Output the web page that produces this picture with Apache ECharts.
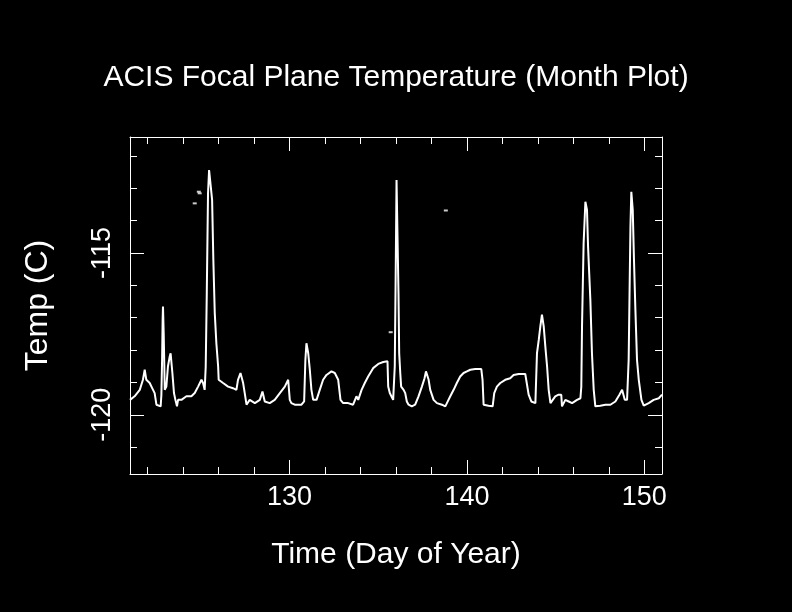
<!DOCTYPE html>
<html><head><meta charset="utf-8">
<script src="https://cdn.jsdelivr.net/npm/echarts@6/dist/echarts.min.js"></script>
<style>html,body{margin:0;padding:0;background:#000}#c{width:792px;height:612px}</style>
</head><body><div id="c"></div>
<script>
const days = [121.0,121.26,121.55,121.73,121.83,121.92,122.11,122.30,122.39,122.49,122.58,122.73,122.77,122.81,122.84,122.86,122.90,122.96,123.05,123.14,123.24,123.29,123.39,123.48,123.56,123.65,123.71,123.90,124.18,124.46,124.65,124.84,125.03,125.12,125.21,125.27,125.33,125.40,125.46,125.55,125.63,125.70,125.78,125.87,125.97,126.00,126.25,126.53,126.81,127.00,127.09,127.23,127.38,127.47,127.57,127.75,128.04,128.32,128.47,128.60,128.88,129.16,129.45,129.73,129.92,130.01,130.10,130.29,130.67,130.82,130.89,130.95,131.05,131.14,131.23,131.33,131.52,131.70,131.89,132.08,132.36,132.55,132.74,132.87,133.02,133.30,133.58,133.77,133.87,134.06,134.24,134.43,134.71,135.00,135.28,135.52,135.56,135.65,135.84,135.93,135.99,136.03,136.11,136.14,136.18,136.24,136.29,136.43,136.52,136.61,136.71,136.89,137.08,137.27,137.46,137.61,137.69,137.84,137.93,138.12,138.31,138.59,138.78,138.87,139.06,139.25,139.43,139.62,139.81,140.00,140.19,140.47,140.81,140.88,140.94,141.22,141.45,141.54,141.69,141.88,142.16,142.44,142.63,142.92,143.29,143.39,143.48,143.63,143.86,143.95,144.05,144.14,144.23,144.33,144.42,144.52,144.61,144.71,144.80,144.98,145.17,145.32,145.36,145.55,145.74,145.93,146.21,146.40,146.45,146.49,146.58,146.68,146.77,146.83,146.96,147.05,147.15,147.24,147.52,147.81,148.09,148.37,148.60,148.75,148.90,149.03,149.12,149.22,149.27,149.35,149.42,149.50,149.59,149.69,149.84,149.97,150.25,150.53,150.82,151.0];
const temps = [-119.54,-119.43,-119.23,-118.92,-118.61,-118.92,-119.02,-119.23,-119.33,-119.69,-119.74,-119.74,-119.38,-118.30,-117.07,-116.66,-117.48,-119.23,-119.13,-118.51,-118.20,-118.10,-118.71,-119.33,-119.54,-119.74,-119.54,-119.54,-119.43,-119.43,-119.33,-119.13,-118.92,-119.02,-119.23,-118.51,-116.24,-113.16,-112.44,-112.44,-113.36,-115.22,-116.86,-117.79,-118.51,-118.92,-119.02,-119.13,-119.18,-119.23,-118.92,-118.71,-119.02,-119.33,-119.69,-119.54,-119.64,-119.54,-119.28,-119.59,-119.64,-119.54,-119.33,-119.13,-118.92,-119.54,-119.64,-119.69,-119.69,-119.59,-118.30,-117.79,-118.10,-118.61,-119.23,-119.54,-119.54,-119.23,-118.92,-118.77,-118.66,-118.71,-118.92,-119.54,-119.64,-119.64,-119.69,-119.43,-119.54,-119.23,-119.02,-118.82,-118.56,-118.43,-118.37,-118.35,-119.13,-119.33,-119.54,-118.51,-115.22,-112.75,-112.75,-116.24,-118.10,-118.71,-119.13,-119.23,-119.33,-119.59,-119.69,-119.74,-119.69,-119.43,-119.13,-118.87,-118.66,-118.92,-119.23,-119.54,-119.64,-119.69,-119.74,-119.64,-119.43,-119.23,-119.02,-118.82,-118.71,-118.66,-118.61,-118.59,-118.59,-118.92,-119.69,-119.72,-119.74,-119.33,-119.13,-119.02,-118.92,-118.87,-118.77,-118.74,-118.74,-118.71,-119.38,-119.59,-119.64,-118.10,-117.69,-117.27,-116.91,-117.27,-117.89,-118.51,-119.23,-119.64,-119.59,-119.43,-119.38,-119.38,-119.74,-119.54,-119.59,-119.64,-119.54,-119.49,-119.13,-117.27,-114.70,-113.42,-113.67,-114.80,-116.45,-118.10,-119.23,-119.74,-119.72,-119.69,-119.69,-119.59,-119.38,-119.23,-119.54,-119.54,-118.30,-114.19,-113.11,-113.67,-115.22,-116.76,-118.30,-118.92,-119.54,-119.72,-119.64,-119.54,-119.49,-119.38];
const strayDays = [124.65,124.88,124.93,135.70,138.81];
const strayTemps = [-113.47,-113.11,-113.16,-117.45,-113.69];
const xMajorTicks = [130,140,150];
const xMinorTicks = [122,124,126,128,132,134,136,138,142,144,146,148];
const yMajorTicks = [-120,-115];
const yMinorTicks = [-121,-119,-118,-117,-116,-114,-113,-112];
const titleText = 'ACIS Focal Plane Temperature (Month Plot)';
const xName = 'Time (Day of Year)';
const yName = 'Temp (C)';

const X_MIN = 121, X_MAX = 151, Y_MIN = -121.83, Y_MAX = -111.42;
const FONT = 'Liberation Sans';
const gridRect = {left:130, top:137, width:532, height:337};

function xAxisDef(grid, pos, ticks, len, showLine, labels, name) {
  const a = {
    type:'value', gridIndex:grid, position:pos, min:X_MIN, max:X_MAX,
    axisLine:{show:showLine, onZero:false, lineStyle:{color:'#fff', width:1}},
    axisTick:{show:true, inside:true, length:len, customValues:ticks, lineStyle:{color:'#fff', width:1}},
    axisLabel:{show:labels, customValues:ticks, color:'#fff', fontSize:27, fontFamily:FONT, margin:10},
    splitLine:{show:false}
  };
  if (name) {
    a.name = name; a.nameLocation = 'middle'; a.nameGap = 66;
    a.nameTextStyle = {color:'#fff', fontSize:30, fontFamily:FONT};
  }
  return a;
}
function yAxisDef(grid, pos, ticks, len, showLine, labels, name) {
  const a = {
    type:'value', gridIndex:grid, position:pos, min:Y_MIN, max:Y_MAX,
    axisLine:{show:showLine, onZero:false, lineStyle:{color:'#fff', width:1}},
    axisTick:{show:true, inside:true, length:len, customValues:ticks, lineStyle:{color:'#fff', width:1}},
    axisLabel:{show:labels, customValues:ticks, rotate:90, color:'#fff', fontSize:27, fontFamily:FONT, margin:14,
      formatter: v => String(v)},
    splitLine:{show:false}
  };
  if (name) {
    a.name = name; a.nameLocation = 'middle'; a.nameGap = 76;
    a.nameTextStyle = {color:'#fff', fontSize:32, fontFamily:FONT};
  }
  return a;
}

const chart = echarts.init(document.getElementById('c'), null, {renderer:'canvas'});
chart.setOption({
  backgroundColor:'#000',
  animation:false,
  title:{text:titleText, left:'center', top:58, textStyle:{color:'#fff', fontSize:30, fontWeight:'normal', fontFamily:FONT}},
  grid:[Object.assign({}, gridRect), Object.assign({}, gridRect)],
  xAxis:[
    xAxisDef(0,'bottom',xMajorTicks,14,true,true,xName),
    xAxisDef(0,'top',xMajorTicks,14,true,false,null),
    xAxisDef(1,'bottom',xMinorTicks,7,false,false,null),
    xAxisDef(1,'top',xMinorTicks,7,false,false,null)
  ],
  yAxis:[
    yAxisDef(0,'left',yMajorTicks,14,true,true,yName),
    yAxisDef(0,'right',yMajorTicks,14,true,false,null),
    yAxisDef(1,'left',yMinorTicks,7,false,false,null),
    yAxisDef(1,'right',yMinorTicks,7,false,false,null)
  ],
  series:[
    {type:'line', xAxisIndex:0, yAxisIndex:0, data:days.map((d,i)=>[d,temps[i]]),
     showSymbol:false, symbol:'none', lineStyle:{color:'#fff', width:2}, clip:true},
    {type:'scatter', xAxisIndex:0, yAxisIndex:0, data:strayDays.map((d,i)=>[d,strayTemps[i]]),
     symbol:'rect', symbolSize:[4,2], itemStyle:{color:'#fff'}}
  ]
});
</script>
</body></html>
